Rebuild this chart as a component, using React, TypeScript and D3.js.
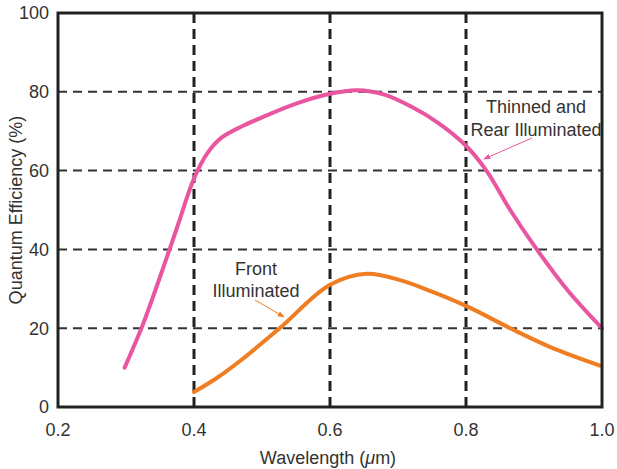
import React from "react";
import * as d3 from "d3";

const xTicks = [0.2, 0.4, 0.6, 0.8, 1.0];
const yTicks = [0, 20, 40, 60, 80, 100];
const xGrid = [0.4, 0.6, 0.8];
const yGrid = [20, 40, 60, 80];

const rearX = [0.298, 0.325, 0.35, 0.375, 0.4, 0.42, 0.44, 0.47, 0.5, 0.55, 0.6, 0.64, 0.68, 0.72, 0.76, 0.8, 0.83, 0.865, 0.9, 0.95, 1.0];
const rearY = [10, 21, 33, 45.5, 58, 64.5, 68.3, 71.2, 73.5, 77, 79.5, 80.4, 79.3, 76.2, 72, 66.3, 60, 50, 41, 29.5, 20];

const frontX = [0.4, 0.433, 0.47, 0.526, 0.6, 0.654, 0.703, 0.751, 0.803, 0.865, 0.924, 0.997];
const frontY = [3.8, 7.3, 12, 20, 31, 33.8, 32.2, 29.2, 25.4, 20, 15.2, 10.5];

const W = 617, H = 469;
const L = 58, R = 602, T = 13, B = 407;

export default function App() {
  const x = d3.scaleLinear().domain([0.2, 1.0]).range([L, R]);
  const y = d3.scaleLinear().domain([0, 100]).range([B, T]);
  const line = d3.line<[number, number]>().x(d => x(d[0])).y(d => y(d[1])).curve(d3.curveCatmullRom.alpha(0.5));
  const rear = line(rearX.map((v, i) => [v, rearY[i]]) as [number, number][]) || "";
  const front = line(frontX.map((v, i) => [v, frontY[i]]) as [number, number][]) || "";
  const font = "'Liberation Sans', Arial, Helvetica, sans-serif";
  const pink = "#e9559f";
  const orange = "#ef7d22";
  const txt = "#333";
  return (
    <svg width={W} height={H} style={{ position: "absolute", left: 0, top: 0, background: "#fff" }} fontFamily={font}>
      <defs>
        <marker id="ap" viewBox="0 0 10 10" refX="9" refY="5" markerWidth="7" markerHeight="7" orient="auto">
          <path d="M0,1 L10,5 L0,9 z" fill={pink} />
        </marker>
        <marker id="ao" viewBox="0 0 10 10" refX="9" refY="5" markerWidth="7" markerHeight="7" orient="auto">
          <path d="M0,1 L10,5 L0,9 z" fill={orange} />
        </marker>
      </defs>
      {yGrid.map(v => (
        <line key={"h" + v} x1={L} x2={R} y1={y(v)} y2={y(v)} stroke="#333" strokeWidth={2} strokeDasharray="9,6" />
      ))}
      {xGrid.map(v => (
        <line key={"v" + v} x1={x(v)} x2={x(v)} y1={T} y2={B} stroke="#222" strokeWidth={3} strokeDasharray="10,6" />
      ))}
      <path d={rear} fill="none" stroke={pink} strokeWidth={4} strokeLinecap="round" />
      <path d={front} fill="none" stroke={orange} strokeWidth={4} strokeLinecap="round" />
      <rect x={L} y={T} width={R - L} height={B - T} fill="none" stroke="#222" strokeWidth={3} />
      {yTicks.map(v => (
        <text key={"yt" + v} x={L - 9} y={y(v)} dy="0.35em" textAnchor="end" fontSize={18} fill={txt}>{v}</text>
      ))}
      {xTicks.map(v => (
        <text key={"xt" + v} x={x(v)} y={B + 23} dy="0.35em" textAnchor="middle" fontSize={18} fill={txt}>{v.toFixed(1)}</text>
      ))}
      <text x={328} y={458} dy="0.35em" textAnchor="middle" fontSize={18} fill={txt}>
        Wavelength (<tspan fontStyle="italic">μ</tspan>m)
      </text>
      <text transform={`translate(16,${(T + B) / 2}) rotate(-90)`} textAnchor="middle" dy="0.35em" fontSize={18} fill={txt}>
        Quantum Efficiency (%)
      </text>
      <text x={536} y={107} dy="0.35em" textAnchor="middle" fontSize={18} fill={txt}>Thinned and</text>
      <text x={536} y={130} dy="0.35em" textAnchor="middle" fontSize={18} fill={txt}>Rear Illuminated</text>
      <line x1={532} y1={138} x2={484} y2={159} stroke={pink} strokeWidth={1} markerEnd="url(#ap)" />
      <text x={256} y={269} dy="0.35em" textAnchor="middle" fontSize={18} fill={txt}>Front</text>
      <text x={256} y={291} dy="0.35em" textAnchor="middle" fontSize={18} fill={txt}>Illuminated</text>
      <line x1={255} y1={300} x2={284} y2={317} stroke={orange} strokeWidth={1} markerEnd="url(#ao)" />
    </svg>
  );
}
